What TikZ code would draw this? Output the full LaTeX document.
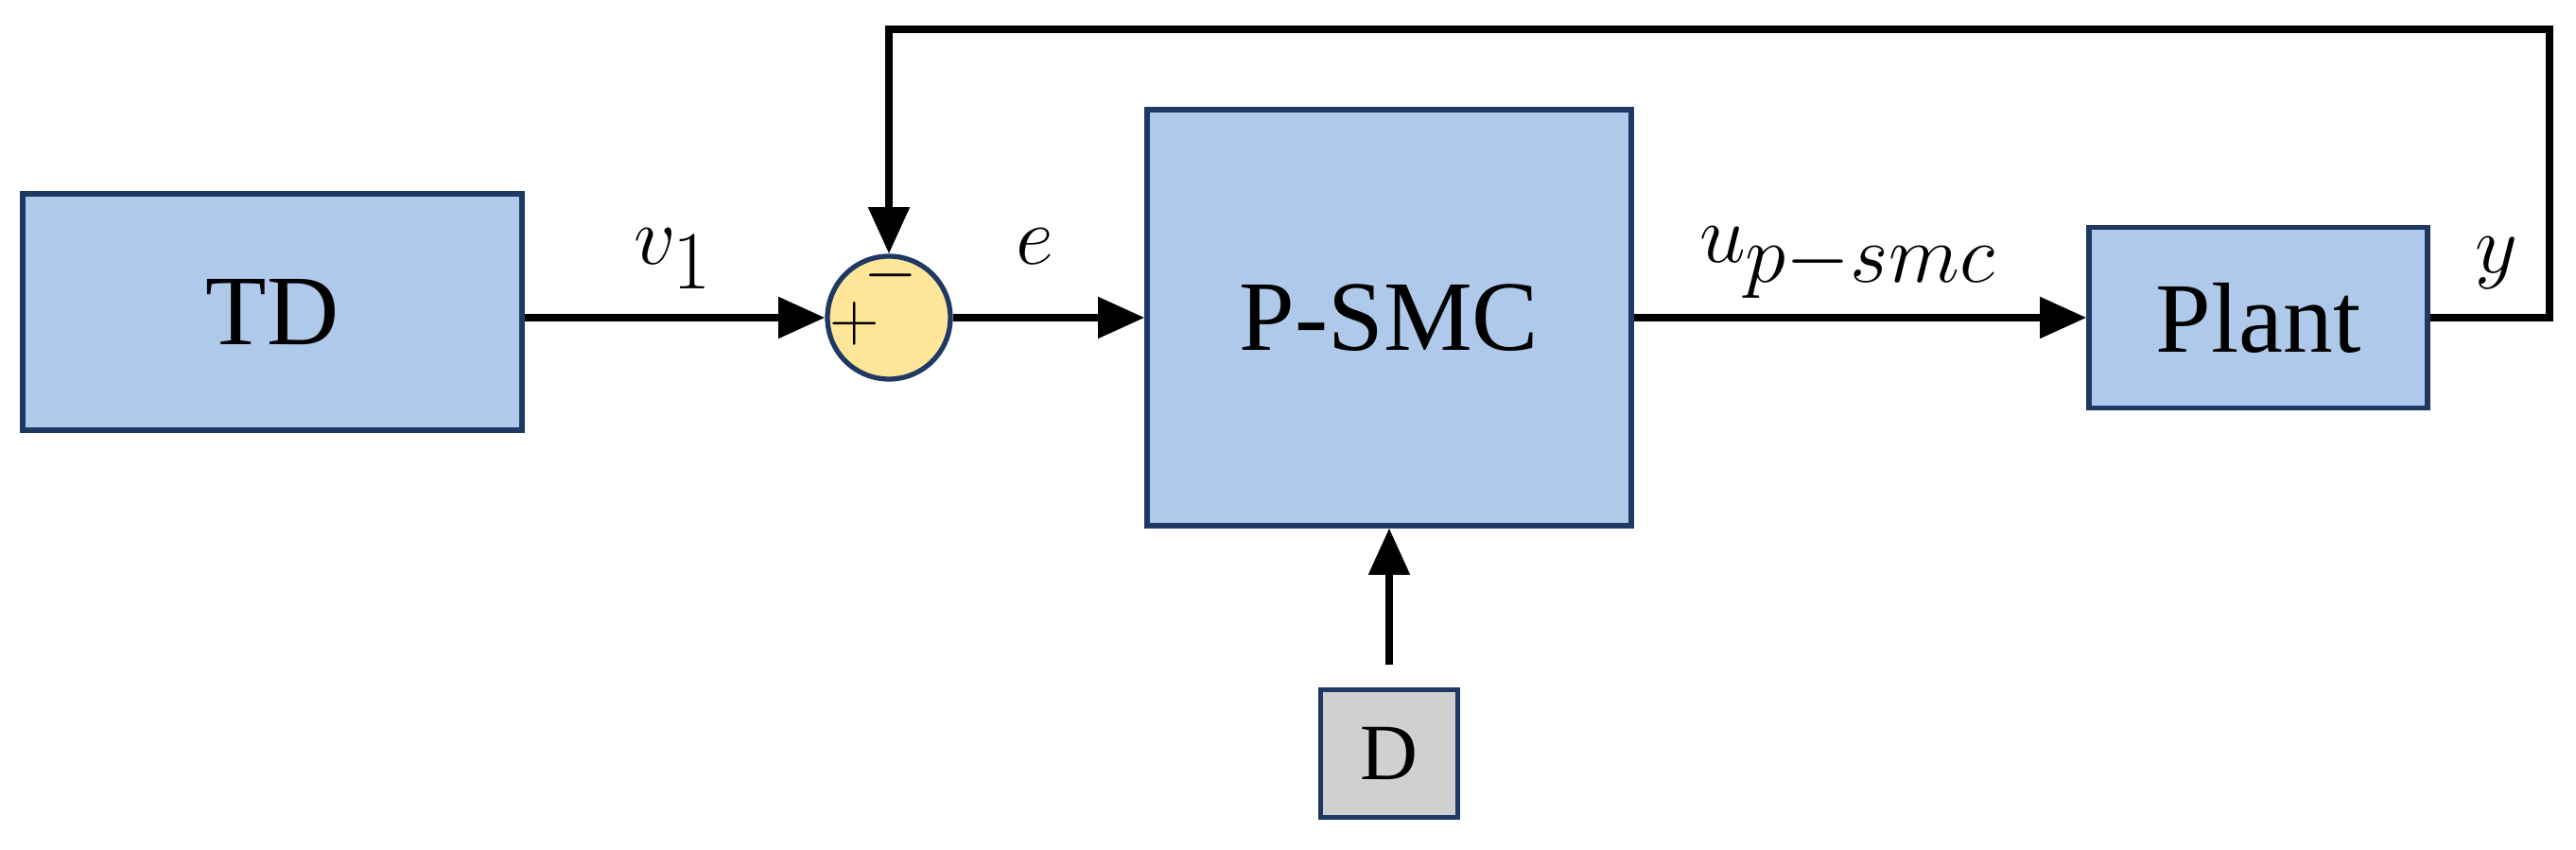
\documentclass[tikz,border=0pt]{standalone}
\usepackage{fontspec}
\setmainfont{Liberation Serif}
\usetikzlibrary{arrows.meta}
\definecolor{bfill}{HTML}{AFC9EA}
\definecolor{bdraw}{HTML}{1F3864}
\definecolor{yfill}{HTML}{FFE699}
\definecolor{gfill}{HTML}{D0D0D0}
\begin{document}
\begin{tikzpicture}[
  blk/.style={draw=bdraw,line width=1.5pt,fill=bfill,inner sep=0pt,font=\fontsize{30}{34}\selectfont},
  sig/.style={line width=2.2pt,-{Triangle[length=14pt,width=12pt]}},
  lbl/.style={font=\fontsize{34}{38}\selectfont},
  pm/.style={font=\fontsize{20}{20}\selectfont,inner sep=0pt}]
\useasboundingbox (0,0) rectangle (27.24,8.99);
\node[blk,minimum width=5.28cm,minimum height=2.5cm] (td) at (2.88,5.69) {TD};
\node[circle,draw=bdraw,line width=1.5pt,fill=yfill,minimum size=1.3cm,inner sep=0pt] (sum) at (9.40,5.63) {};
\node[pm] (plus) at (9.04,5.57) {$+$};
\node[pm] (minus) at (9.42,6.08) {$-$};
\node[blk,minimum width=5.12cm,minimum height=4.4cm] (psmc) at (14.69,5.63) {P-SMC};
\node[blk,minimum width=3.58cm,minimum height=1.91cm] (plant) at (23.88,5.63) {Plant};
\node[draw=bdraw,line width=1.5pt,fill=gfill,minimum width=1.45cm,minimum height=1.35cm,inner sep=0pt,font=\fontsize{24}{28}\selectfont] (d) at (14.69,1.02) {D};
\coordinate (dtop) at (14.69,1.96);
\coordinate (tr) at (26.96,8.68);
\node[lbl] (v1) at (7.12,6.25) {$v_1$};
\node[lbl] (e) at (10.94,6.38) {$e$};
\node[lbl] (u) at (19.54,6.21) {$u_{p-smc}$};
\node[lbl] (y) at (26.40,6.21) {$y$};
\draw[sig] (td.east |- sum) -- (sum.west);
\draw[sig] (sum.east) -- (psmc.west);
\draw[sig] (psmc.east) -- (plant.west);
\draw[sig] (dtop) -- (psmc.south);
\draw[sig] (plant.east) -- (plant.east -| tr) -- (tr) -- (tr -| sum) -- (sum.north);
\end{tikzpicture}
\end{document}
